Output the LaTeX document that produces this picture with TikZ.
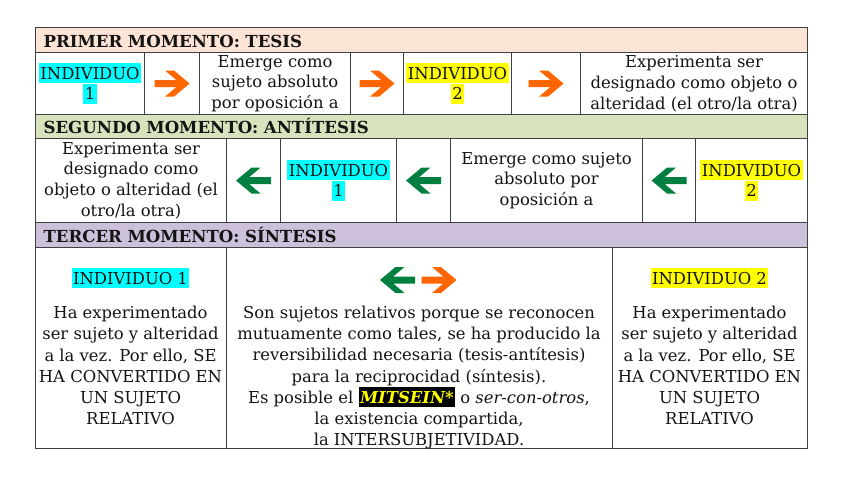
\documentclass[tikz,border=0pt]{standalone}
\usepackage{fontspec}
\setmainfont{DejaVu Serif}
\usepackage{xcolor}
\usepackage{tikz}
\usetikzlibrary{positioning}
\definecolor{linecol}  {RGB}{64,64,64}
\definecolor{textcol}  {RGB}{20,20,20}
\definecolor{tesiscol} {RGB}{251,228,214}
\definecolor{antitcol} {RGB}{214,227,188}
\definecolor{sintcol}  {RGB}{204,192,218}
\definecolor{orangecol}{RGB}{255,102,0}
\definecolor{greencol} {RGB}{0,128,64}
\definecolor{cyanhl}   {RGB}{0,255,255}
\definecolor{yellowhl} {RGB}{255,255,0}
\newcommand\cellfont{\fontsize{16.4}{20.8}\selectfont}
\newcommand\sintfont{\fontsize{16.4}{21.2}\selectfont}
\newcommand\hdrfont{\fontsize{16.6}{20}\selectfont\bfseries}
\newcommand\hlstrut{\vrule height 14.5pt depth 2.5pt width 0pt}
\newcommand\hlcyan[1]{{\setlength\fboxsep{1.5pt}\colorbox{cyanhl}{\hlstrut#1}}}
\newcommand\hlyellow[1]{{\setlength\fboxsep{1.5pt}\colorbox{yellowhl}{\hlstrut#1}}}
\newcommand\mitsein{{\setlength\fboxsep{1.5pt}%
  \colorbox{black}{\hlstrut\textcolor{yellowhl}{\bfseries\itshape MITSEIN*}}}}
\tikzset{
  rarrow/.pic={\fill[orangecol] (-17.5,-3.5)--(4.3,-3.5)--(-7,-13)--(2,-13)--(17.5,0)
               --(2,13)--(-7,13)--(4.3,3.5)--(-17.5,3.5)--cycle;},
  larrow/.pic={\fill[greencol,xscale=-1] (-17.5,-3.5)--(4.3,-3.5)--(-7,-13)--(2,-13)--(17.5,0)
               --(2,13)--(-7,13)--(4.3,3.5)--(-17.5,3.5)--cycle;}
}
\begin{document}
\begin{tikzpicture}[x=1pt,y=-1pt,
  cell/.style={rectangle,draw=linecol,line width=1.1pt,inner sep=0pt,
               anchor=north west,align=center,font=\cellfont,text=textcol},
  hdr/.style={cell,align=left,text width=756pt,inner xsep=8pt,
               minimum width=772pt,font=\hdrfont,
               text height=14.5pt,text depth=0pt},
  sbody/.style={align=center,font=\sintfont,text=textcol,inner sep=0pt},
  hlabel/.style={font=\cellfont,text=textcol,inner sep=0pt}
]
\fill[white] (0,0) rectangle (848,477);
% primer momento
\node[hdr,fill=tesiscol,minimum height=25pt] (hdrA) at (35,27)
  {PRIMER MOMENTO: TESIS};
\node[cell,minimum width=109pt,minimum height=62pt] (r1a) at (35,52)
  {\hlcyan{INDIVIDUO}\\\hlcyan{1}};
\node[cell,minimum width=55pt,minimum height=62pt] (r1b) at (144,52) {};
\node[cell,minimum width=151pt,minimum height=62pt] (r1c) at (199,52)
  {Emerge como\\sujeto absoluto\\por oposición a};
\node[cell,minimum width=53pt,minimum height=62pt] (r1d) at (350,52) {};
\node[cell,minimum width=108pt,minimum height=62pt] (r1e) at (403,52)
  {\hlyellow{INDIVIDUO}\\\hlyellow{2}};
\node[cell,minimum width=69pt,minimum height=62pt] (r1f) at (511,52) {};
\node[cell,minimum width=227pt,minimum height=62pt] (r1g) at (580,52)
  {Experimenta ser\\designado como objeto o\\alteridad (el otro/la otra)};
\pic at (r1b) {rarrow};
\pic at (r1d) {rarrow};
\pic at (r1f) {rarrow};
% segundo momento
\node[hdr,fill=antitcol,minimum height=24pt] (hdrB) at (35,114)
  {SEGUNDO MOMENTO: ANTÍTESIS};
\node[cell,minimum width=191pt,minimum height=84pt] (r2a) at (35,138)
  {Experimenta ser\\designado como\\objeto o alteridad (el\\otro/la otra)};
\node[cell,minimum width=54pt,minimum height=84pt] (r2b) at (226,138) {};
\node[cell,minimum width=116pt,minimum height=84pt] (r2c) at (280,138)
  {\hlcyan{INDIVIDUO}\\\hlcyan{1}};
\node[cell,minimum width=54pt,minimum height=84pt] (r2d) at (396,138) {};
\node[cell,minimum width=192pt,minimum height=84pt] (r2e) at (450,138)
  {Emerge como sujeto\\absoluto por\\oposición a};
\node[cell,minimum width=53pt,minimum height=84pt] (r2f) at (642,138) {};
\node[cell,minimum width=112pt,minimum height=84pt] (r2g) at (695,138)
  {\hlyellow{INDIVIDUO}\\\hlyellow{2}};
\pic at (r2b) {larrow};
\pic at (r2d) {larrow};
\pic at (r2f) {larrow};
% tercer momento
\node[hdr,fill=sintcol,minimum height=25pt] (hdrC) at (35,222)
  {TERCER MOMENTO: SÍNTESIS};
\node[cell,minimum width=191pt,minimum height=201pt] (r3a) at (35,247) {};
\node[cell,minimum width=386pt,minimum height=201pt] (r3b) at (226,247) {};
\node[cell,minimum width=195pt,minimum height=201pt] (r3c) at (612,247) {};
\node[hlabel] (ind3a) at (130.5,278.3) {\hlcyan{INDIVIDUO 1}};
\node[hlabel] (ind3c) at (709.5,278.3) {\hlyellow{INDIVIDUO 2}};
\pic at (397.5,280) {larrow};
\pic at (439,280) {rarrow};
\node[sbody,below=17.5pt of ind3a] (t3a)
  {Ha experimentado\\ser sujeto y alteridad\\a la vez. Por ello, SE\\
   HA CONVERTIDO EN\\UN SUJETO\\RELATIVO};
\node[sbody,anchor=north] (t3b) at (419,305.8)
  {Son sujetos relativos porque se reconocen\\
   mutuamente como tales, se ha producido la\\
   reversibilidad necesaria (tesis-antítesis)\\
   para la reciprocidad (síntesis).\\
   Es posible el \mitsein{} o \textit{ser-con-otros},\\
   la existencia compartida,\\
   la INTERSUBJETIVIDAD.};
\node[sbody,below=17.5pt of ind3c] (t3c)
  {Ha experimentado\\ser sujeto y alteridad\\a la vez. Por ello, SE\\
   HA CONVERTIDO EN\\UN SUJETO\\RELATIVO};
\end{tikzpicture}
\end{document}
